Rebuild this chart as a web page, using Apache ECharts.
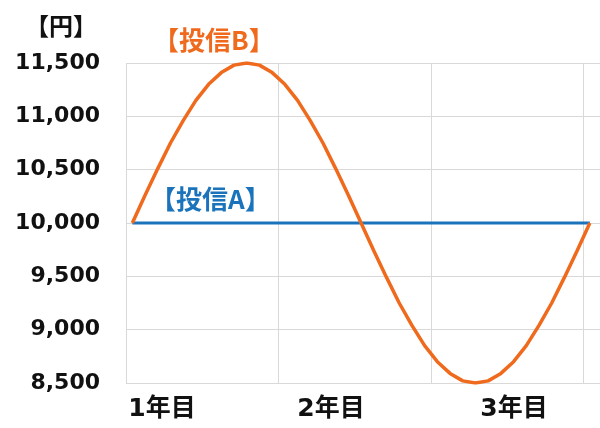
<!DOCTYPE html>
<html>
<head>
<meta charset="utf-8">
<script src="https://cdn.jsdelivr.net/npm/echarts@6/dist/echarts.min.js"></script>
<style>
html, body { margin: 0; padding: 0; background: #fff; }
#chart { width: 600px; height: 428px; }
</style>
</head>
<body>
<div id="chart"></div>
<script>
// 経過月 (0〜36ヶ月)
var months = [0, 1, 2, 3, 4, 5, 6, 7, 8, 9, 10, 11, 12, 13, 14, 15, 16, 17, 18,
  19, 20, 21, 22, 23, 24, 25, 26, 27, 28, 29, 30, 31, 32, 33, 34, 35, 36]
// 投信B（値動きあり）
var fundB = [10000, 10260, 10510, 10750, 10960, 11150, 11300, 11410, 11480, 11500,
  11480, 11410, 11300, 11150, 10960, 10750, 10510, 10260, 10000,
  9740, 9490, 9250, 9040, 8850, 8700, 8590, 8520, 8500, 8520, 8590, 8700,
  8850, 9040, 9250, 9490, 9740, 10000]
// 投信A（横ばい）
var fundAMonths = [0, 36]
var fundA = [10000, 10000]
var yearLabels = ['1年目', '2年目', '3年目']
var yTicks = { min: 8500, max: 11500, step: 500 }

var orange = '#EF6A1D'
var blue = '#1B74BB'
var cjk = '"Noto Sans CJK JP", sans-serif'

var chart = echarts.init(document.getElementById('chart'))
var option = {
  backgroundColor: '#fff',
  animation: false,
  grid: {
    left: 126,
    right: -2,
    top: 63,
    bottom: 45
  },
  xAxis: {
    type: 'value',
    min: -0.5,
    max: 36.8,
    interval: 12,
    axisLine: { show: false },
    axisTick: { show: false },
    axisLabel: { show: false },
    splitLine: { show: true, lineStyle: { color: '#d9d9d9', width: 1 } }
  },
  yAxis: {
    type: 'value',
    min: yTicks.min,
    max: yTicks.max,
    interval: yTicks.step,
    axisLine: { show: false },
    axisTick: { show: false },
    axisLabel: {
      margin: 26,
      color: '#111',
      fontFamily: '"DejaVu Sans", sans-serif',
      fontWeight: 'bold',
      fontSize: 22,
      formatter: function (v) {
        return String(v).replace(/\B(?=(\d{3})+(?!\d))/g, ',')
      }
    },
    splitLine: { show: true, lineStyle: { color: '#d9d9d9', width: 1 } }
  },
  graphic: [
    // 単位
    { type: 'text', left: 25, top: 14, style: { text: '【円】', fill: '#111', font: 'bold 24px ' + cjk } },
    { type: 'text', left: 153, top: 27, style: { text: '【投信B】', fill: orange, font: 'bold 26px ' + cjk } },
    { type: 'text', left: 150, top: 186, style: { text: '【投信A】', fill: blue, font: 'bold 26px ' + cjk } }
  ].concat(yearLabels.map(function (t, i) {
    var cx = [162, 331, 514][i]
    return {
      type: 'text',
      x: cx,
      y: 409,
      style: {
        text: t,
        fill: '#111',
        align: 'center',
        verticalAlign: 'middle',
        font: 'bold 25px "DejaVu Sans", "Noto Sans CJK JP", sans-serif'
      }
    }
  })),
  series: [{
    type: 'line',
    name: '投信A',
    showSymbol: false,
    lineStyle: { color: blue, width: 3 },
    data: fundAMonths.map(function (m, i) { return [m, fundA[i]] })
  }, {
    type: 'line',
    name: '投信B',
    showSymbol: false,
    smooth: false,
    lineStyle: { color: orange, width: 3.5 },
    data: months.map(function (m, i) { return [m, fundB[i]] })
  }]
}
chart.setOption(option)
</script>
</body>
</html>
